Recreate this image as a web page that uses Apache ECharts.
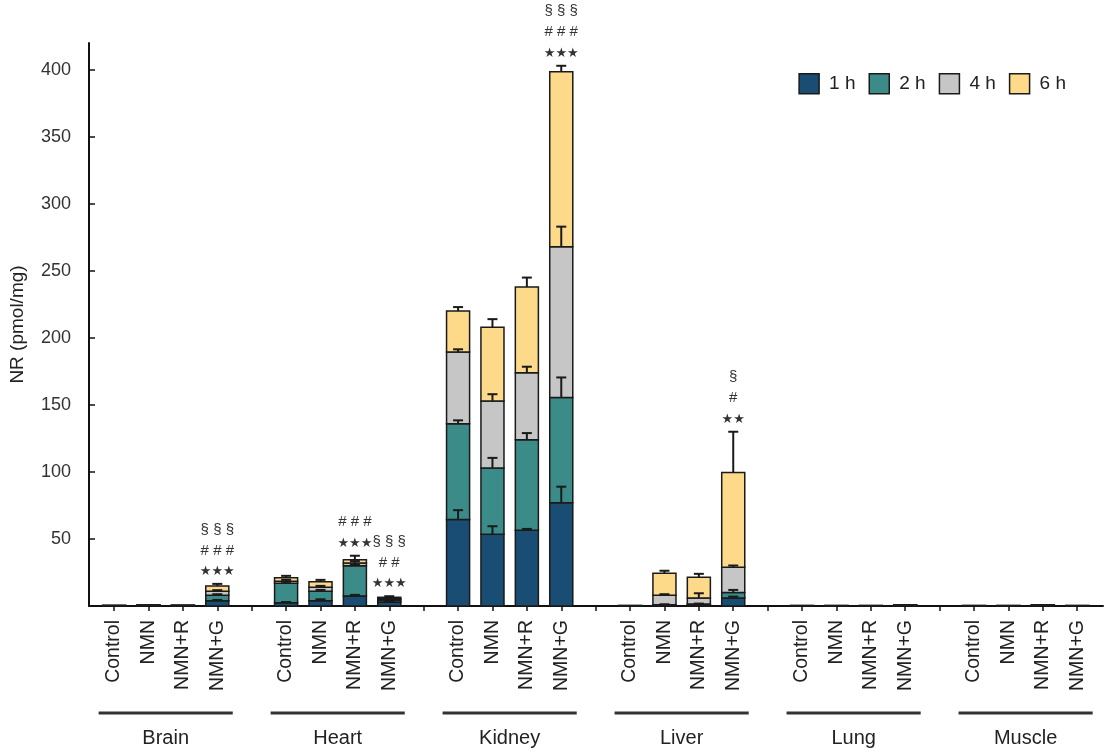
<!DOCTYPE html>
<html>
<head>
<meta charset="utf-8">
<script src="https://cdn.jsdelivr.net/npm/echarts@6/dist/echarts.min.js"></script>
<style>html,body{margin:0;padding:0;background:#fff}#c{width:1108px;height:755px}</style>
</head>
<body>
<div id="c"></div>
<script>
// ---- data ----
const tissues = ['Brain', 'Heart', 'Kidney', 'Liver', 'Lung', 'Muscle'];
const treatments = ['Control', 'NMN', 'NMN+R', 'NMN+G'];
const timeLabels = ['1 h', '2 h', '4 h', '6 h'];
// segment heights (pmol/mg), 24 bars: tissue x treatment
const nr1h = [0.2, 0.2, 0.2, 4,   2.5, 4, 7.5, 3,    64.5, 53.5, 56.5, 77,    0.1, 0.5, 0.8, 6,    0.1, 0.1, 0.1, 0.2,  0.1, 0.1, 0.2, 0.1];
const nr2h = [0.1, 0.2, 0.1, 4,   14.5, 7, 22.5, 1.5, 71.5, 49.5, 67.5, 78.5,  0.1, 0.5, 0.7, 4,    0.1, 0.1, 0.1, 0.2,  0.1, 0.1, 0.2, 0.1];
const nr4h = [0.1, 0.2, 0.2, 3,   1.5, 3, 2, 1,      53.5, 50, 50, 112.5,     0.1, 7, 4.5, 19,     0.1, 0.1, 0.1, 0.2,  0.1, 0.1, 0.2, 0.1];
const nr6h = [0.1, 0.3, 0.2, 4,   2.5, 4, 2.5, 1,    30.5, 55, 64, 130.5,     0.1, 16.5, 15.5, 70.5, 0.1, 0.1, 0.1, 0.3, 0.1, 0.1, 0.3, 0.1];
// SEM above each segment
const sem1h = [0, 0, 0, 0.5,  0.5, 1, 0.8, 0.5,  7, 6, 1, 12,      0, 0.2, 0.2, 1,    0, 0, 0, 0,  0, 0, 0, 0];
const sem2h = [0, 0, 0, 0.8,  1, 1, 1, 0.5,      2.5, 7.5, 5, 15,  0, 0.3, 0.3, 2,    0, 0, 0, 0,  0, 0, 0, 0];
const sem4h = [0, 0, 0, 0.8,  1, 1, 1.5, 0.5,    2, 5, 4.5, 15,    0, 0.8, 3.5, 1.2,  0, 0, 0, 0,  0, 0, 0, 0];
const sem6h = [0, 0, 0, 1.5,  1.5, 1.5, 3, 0.8,  3, 6, 7, 4.5,     0, 1.8, 2.5, 30.5, 0, 0, 0, 0,  0, 0, 0, 0];
// significance marks
const sigBars = [3, 6, 7, 11, 15];
const sigText = [
  ['§ § §', '# # #', '★★★'],
  ['# # #', '★★★'],
  ['§ § §', '# #', '★★★'],
  ['§ § §', '# # #', '★★★'],
  ['§', '#', '★★']
];
const yTicks = [50, 100, 150, 200, 250, 300, 350, 400];

// ---- derived ----
const segs = [nr1h, nr2h, nr4h, nr6h];
const sems = [sem1h, sem2h, sem4h, sem6h];
const colors = ['#1a4d73', '#3b8c88', '#c6c6c6', '#fdd98a'];
const slotOf = b => Math.floor(b / 4) * 5 + (b % 4);
const cum = [];
segs.forEach((s, k) => cum.push(s.map((v, b) => (k ? cum[k - 1][b] : 0) + v)));
const allSlots = [];
for (let i = 0; i < 29; i++) allSlots.push(i);
const labelSlots = [];
for (let b = 0; b < 24; b++) labelSlots.push(slotOf(b));

const series = [];
segs.forEach((s, k) => {
  series.push({
    name: timeLabels[k], type: 'custom', z: 2,
    itemStyle: { color: colors[k], borderColor: '#1a1a1a', borderWidth: 1.5 },
    encode: { x: 0, y: [1, 2] },
    data: s.map((v, b) => [slotOf(b), cum[k][b] - v, cum[k][b]]),
    renderItem: (params, api) => {
      const x = api.value(0), p0 = api.coord([x, api.value(1)]), p1 = api.coord([x, api.value(2)]);
      const w = api.size([1, 0])[0] * 0.67;
      return { type: 'rect', shape: { x: p0[0] - w / 2, y: p1[1], width: w, height: p0[1] - p1[1] },
        style: { fill: colors[k], stroke: '#1a1a1a', lineWidth: 1.5 } };
    }
  });
});
const errData = [];
sems.forEach((s, k) => s.forEach((e, b) => { if (e > 0) errData.push([slotOf(b), cum[k][b], cum[k][b] + e]); }));
series.push({
  type: 'custom', z: 5, silent: true, encode: { x: 0, y: [1, 2] }, data: errData,
  renderItem: (params, api) => {
    const x = api.value(0), p0 = api.coord([x, api.value(1)]), p1 = api.coord([x, api.value(2)]);
    const st = { stroke: '#1a1a1a', lineWidth: 2 };
    return { type: 'group', children: [
      { type: 'line', shape: { x1: p0[0], y1: p0[1], x2: p1[0], y2: p1[1] }, style: st },
      { type: 'line', shape: { x1: p1[0] - 5, y1: p1[1], x2: p1[0] + 5, y2: p1[1] }, style: st }
    ] };
  }
});
series.push({
  type: 'custom', z: 6, silent: true, encode: { x: 0, y: 1 },
  data: sigBars.map((b, i) => [slotOf(b), cum[3][b] + sem6h[b], i]),
  renderItem: (params, api) => {
    const p = api.coord([api.value(0), api.value(1)]);
    const lines = sigText[api.value(2)];
    const txt = lines.map(l => l.indexOf('★') >= 0 ? '{s|' + l + '}' : '{h|' + l + '}').join('\n');
    return { type: 'text', x: p[0], y: p[1] - 2,
      style: { text: txt, align: 'center', verticalAlign: 'bottom', fill: '#333',
        rich: { h: { fontSize: 15, fontFamily: 'Liberation Sans', lineHeight: 21, fill: '#333' },
                s: { fontSize: 13, fontFamily: 'DejaVu Sans', lineHeight: 21, fill: '#333' } } } };
  }
});
series.push({
  type: 'custom', z: 6, silent: true, clip: false, encode: { x: 0, y: 1 },
  data: tissues.map((t, i) => [i * 5 + 1.5, 0, i]),
  renderItem: (params, api) => {
    const i = api.value(2);
    const a = api.coord([i * 5 - 0.45, 0]), c = api.coord([i * 5 + 3.45, 0]);
    const m = api.coord([api.value(0), 0]);
    return { type: 'group', children: [
      { type: 'line', shape: { x1: a[0], y1: a[1] + 107, x2: c[0], y2: c[1] + 107 }, style: { stroke: '#333', lineWidth: 3 } },
      { type: 'text', x: m[0], y: m[1] + 132, style: { text: tissues[i], align: 'center', verticalAlign: 'middle',
        fontSize: 20, fontFamily: 'Liberation Sans', fill: '#222' } }
    ] };
  }
});

const chart = echarts.init(document.getElementById('c'));
chart.setOption({
  animation: false,
  textStyle: { fontFamily: 'Liberation Sans' },
  grid: { left: 88, right: 5, top: 43, bottom: 149 },
  legend: {
    data: timeLabels, right: 37, top: 68, icon: 'rect', itemWidth: 20, itemHeight: 20, itemGap: 13,
    itemStyle: { borderColor: '#1a1a1a', borderWidth: 1.5 },
    textStyle: { fontSize: 19, color: '#222', padding: [0, 0, 0, 5] }
  },
  xAxis: {
    type: 'value', min: -0.73, max: 28.75, splitLine: { show: false },
    axisLine: { show: true, onZero: false, lineStyle: { color: '#111', width: 2 } },
    axisTick: { show: true, customValues: allSlots, length: 5, lineStyle: { color: '#111', width: 1.5 } },
    axisLabel: { show: true, customValues: labelSlots, rotate: 90, margin: 14, fontSize: 19.5, color: '#222',
      formatter: v => treatments[Math.round(v) % 5] || '' }
  },
  yAxis: {
    type: 'value', min: 0, max: 420, splitLine: { show: false },
    name: 'NR (pmol/mg)', nameLocation: 'middle', nameGap: 62,
    nameTextStyle: { fontSize: 19, color: '#222' },
    axisLine: { show: true, onZero: false, lineStyle: { color: '#111', width: 2 } },
    axisTick: { show: true, inside: true, length: 6, customValues: yTicks, lineStyle: { color: '#111', width: 1.5 } },
    axisLabel: { customValues: yTicks, fontSize: 18, color: '#333', margin: 18 }
  },
  series: series
});
</script>
</body>
</html>
